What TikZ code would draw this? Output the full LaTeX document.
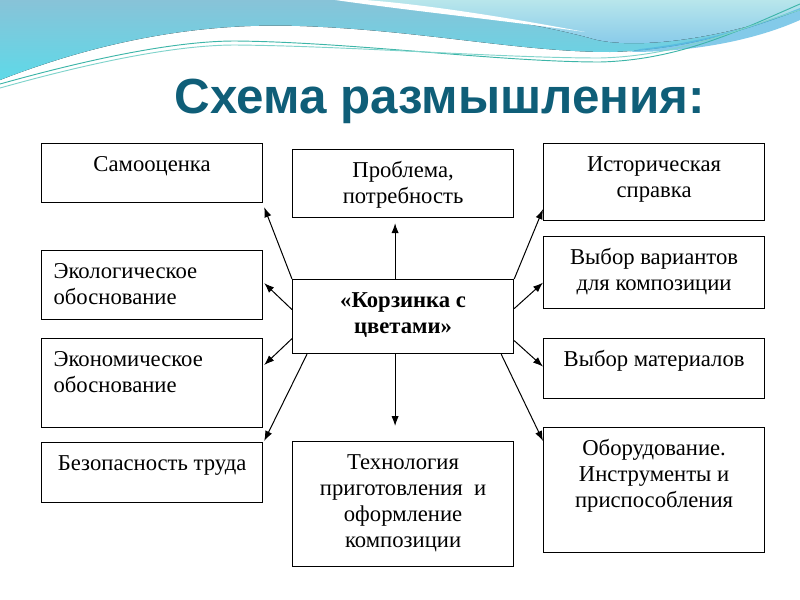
\documentclass[tikz,border=0pt]{standalone}
\usepackage{fontspec}
\setmainfont{Liberation Serif}
\newfontfamily\headfont{Liberation Sans}
\usetikzlibrary{arrows.meta,calc}

\definecolor{headcol}{HTML}{0F5E78}
\definecolor{bandtop}{HTML}{88C3D8}
\definecolor{bandlow}{HTML}{5ED9E8}
\definecolor{paletop}{HTML}{B8E6EB}
\definecolor{palelow}{HTML}{84C8EA}
\definecolor{deepblue}{HTML}{4FB3E0}
\definecolor{wavelineA}{HTML}{3DB5A8}
\definecolor{wavelineB}{HTML}{7FD3CB}

% boxes: text at the top, centred or left
\newcommand{\cellc}[3]{\parbox[c][#2][t]{#1}{\centering\rule{0pt}{21pt}#3}}
\newcommand{\celll}[3]{\parbox[c][#2][t]{#1}{\leftskip=9pt\rule{0pt}{21pt}#3}}

\tikzset{
  cell/.style={draw, line width=0.9pt, inner sep=0pt, anchor=north west,
    font=\fontsize{17pt}{19.5pt}\selectfont},
  conn/.style={-{Latex[length=7.5pt,width=5.5pt]}, line width=0.75pt},
}

\begin{document}
\begin{tikzpicture}[x=0.75pt,y=0.75pt,yscale=-1,xscale=1]
\useasboundingbox (0,0) rectangle (800,600);

% background waves
\fill[top color=bandtop, bottom color=bandlow] (0,0) -- (0,80) .. controls (90,45) and (190,22) .. (300,26) .. controls (420,30) and (520,52) .. (610,52) .. controls (690,50) and (750,28) .. (800,10) -- (800,0) -- cycle;
\fill[top color=paletop, bottom color=palelow] (350,0) .. controls (440,8) and (530,22) .. (590,38) .. controls (620,48) and (700,46) .. (800,10) -- (800,0) -- cycle;
\fill[deepblue, opacity=0.7] (640,49) .. controls (720,40) and (770,20) .. (800,8) -- (800,20) .. controls (760,38) and (700,52) .. (630,52) -- cycle;
\fill[white] (335,0) .. controls (420,12) and (500,20) .. (585,32) .. controls (500,16) and (420,4) .. (365,0) -- cycle;
\draw[wavelineA, line width=0.7pt] (0,84) .. controls (100,56) and (180,41) .. (235,41) .. controls (350,42) and (500,62) .. (600,62) .. controls (680,60) and (740,30) .. (800,4);
\draw[wavelineB, line width=0.7pt] (0,88) .. controls (100,60) and (180,45) .. (235,45) .. controls (350,46) and (500,58) .. (600,58) .. controls (680,56) and (740,28) .. (800,10);

% title
\node[font=\headfont\bfseries\fontsize{37pt}{40pt}\selectfont, text=headcol, anchor=base] (title) at (440,113) {Схема размышления:};

% left column
\node[cell] (samo) at (41,143) {\cellc{165.75pt}{44.25pt}{Самооценка}};
\node[cell] (ecol) at (41,250) {\celll{165.75pt}{51.75pt}{Экологическое\\обоснование}};
\node[cell] (econ) at (41,338) {\celll{165.75pt}{66.75pt}{Экономическое\\обоснование}};
\node[cell] (safe) at (41,442) {\cellc{165.75pt}{45pt}{Безопасность труда}};

% middle column
\node[cell] (need) at (292,149) {\cellc{165.75pt}{51pt}{Проблема,\\потребность}};
\node[cell] (basket) at (292,279) {\cellc{165.75pt}{55.5pt}{\bfseries «Корзинка с\\цветами»}};
\node[cell] (tech) at (292,441) {\cellc{165.75pt}{93.75pt}{Технология\\приготовления~ и\\оформление\\композиции}};

% right column
\node[cell] (hist) at (543,143) {\cellc{165.75pt}{57.75pt}{Историческая\\справка}};
\node[cell] (vari) at (543,236) {\cellc{165.75pt}{54pt}{Выбор вариантов\\для композиции}};
\node[cell] (mats) at (543,338) {\cellc{165.75pt}{45pt}{Выбор материалов}};
\node[cell] (equip) at (543,427) {\cellc{165.75pt}{93.75pt}{Оборудование.\\Инструменты и\\приспособления}};

% arrows from the centre
\draw[conn] ($(basket.north)+(-8,0)$) -- ($(need.south)+(-8,5)$);
\draw[conn] ($(basket.south)+(-8,0)$) -- ($(tech.north)+(-8,-15)$);
\draw[conn] (basket.north west) -- ($(samo.south east)+(1,4)$);
\draw[conn] ($(basket.west)+(0,-7)$) -- ($(ecol.east)+(1,-2)$);
\draw[conn] ($(basket.west)+(0,22)$) -- ($(econ.north east)+(1,27)$);
\draw[conn] ($(basket.south west)+(15,0)$) -- ($(safe.north east)+(1,-1)$);
\draw[conn] (basket.north east) -- ($(hist.south west)+(0,-12)$);
\draw[conn] ($(basket.east)+(0,-8)$) -- ($(vari.west)+(0,10)$);
\draw[conn] ($(basket.east)+(0,24)$) -- ($(mats.west)+(0,-2)$);
\draw[conn] ($(basket.south east)+(-13,0)$) -- ($(equip.north west)+(0,14)$);
\end{tikzpicture}
\end{document}
